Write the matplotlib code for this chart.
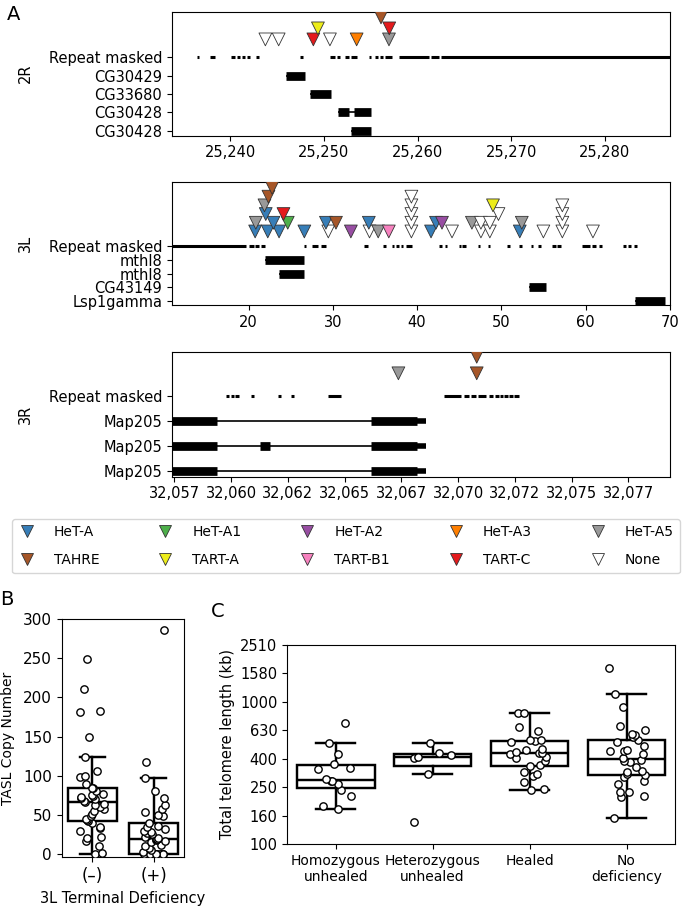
import numpy as np
import matplotlib
matplotlib.use('Agg')
import matplotlib.pyplot as plt
from matplotlib.ticker import FuncFormatter, MultipleLocator
from matplotlib.lines import Line2D

# TE families and colours
te_names = ['HeT-A', 'HeT-A1', 'HeT-A2', 'HeT-A3', 'HeT-A5',
            'TAHRE', 'TART-A', 'TART-B1', 'TART-C', 'None']
te_colors = ['#377eb8', '#4daf4a', '#984ea3', '#ff7f00', '#999999',
             '#a65628', '#eded1a', '#f781bf', '#e41a1c', 'white']

# ---- 2R (kb)
genes_2r = ['CG30429', 'CG33680', 'CG30428', 'CG30428']
exons_2r = [[(25246.0, 25248.0)],
            [(25248.55, 25250.8)],
            [(25251.5, 25252.65), (25253.2, 25255.0)],
            [(25252.9, 25255.0)]]
utrs_2r = [[], [], [], []]
repeats_2r = [(25236.47, 25236.72), (25237.89, 25238.42), (25240.13, 25240.56),
              (25240.73, 25241.09), (25241.27, 25241.62), (25241.80, 25242.16),
              (25242.76, 25243.12), (25247.49, 25247.74), (25250.65, 25251.22),
              (25251.40, 25251.76), (25252.29, 25252.64), (25252.93, 25253.53),
              (25254.78, 25255.06), (25255.49, 25255.77), (25256.02, 25256.27),
              (25256.56, 25257.27), (25257.98, 25261.25), (25261.46, 25262.24),
              (25262.46, 25286.94)]
te_pos_2r = [25243.76, 25245.18, 25248.88, 25249.37, 25250.65, 25253.5,
             25256.95, 25256.98, 25256.1]
te_type_2r = ['None', 'None', 'TART-C', 'TART-A', 'None', 'HeT-A3',
              'HeT-A5', 'TART-C', 'TAHRE']
te_level_2r = [0, 0, 0, 1, 0, 0, 0, 1, 2]

# ---- 3L (kb)
genes_3l = ['mthl8', 'mthl8', 'CG43149', 'Lsp1gamma']
exons_3l = [[(21.9, 26.6)], [(23.6, 26.6)], [(53.3, 55.25)], [(65.9, 69.4)]]
utrs_3l = [[], [], [], []]
repeats_3l = [(10.0, 19.68), (20.0, 20.6), (20.78, 21.26), (21.5, 21.97),
              (26.58, 26.82), (27.5, 28.28), (28.6, 29.15), (33.72, 34.19),
              (35.97, 36.25), (36.96, 37.27), (37.55, 37.86), (38.06, 38.38),
              (38.73, 39.4), (42.64, 42.95), (43.27, 43.58), (44.93, 45.2),
              (45.32, 45.79), (47.17, 47.45), (48.36, 48.63), (50.72, 51.0),
              (52.1, 52.42), (53.48, 53.76), (54.39, 54.67), (55.97, 56.52),
              (56.64, 57.03), (59.6, 60.47), (60.7, 61.18), (61.57, 61.89),
              (64.41, 64.73), (65.04, 65.36), (65.71, 66.11)]
te_pos_3l = [20.78, 22.28, 23.62, 26.62, 29.46, 32.14, 34.35, 35.38, 36.64,
             39.32, 41.65, 44.14, 47.57, 48.63, 52.18, 54.98, 57.23, 60.86,
             20.86, 22.95, 24.65, 29.18, 30.37, 34.27, 39.32, 42.24, 42.95,
             46.5, 47.57, 48.63, 52.42, 57.23,
             22.04, 24.14, 39.32, 49.65, 57.23,
             21.89, 39.32, 49.0, 57.23,
             22.36, 39.32,
             22.8]
te_type_3l = ['HeT-A', 'HeT-A', 'HeT-A', 'HeT-A', 'None', 'HeT-A2', 'None',
              'HeT-A5', 'TART-B1', 'None', 'HeT-A', 'None', 'None', 'None',
              'HeT-A', 'None', 'None', 'None',
              'HeT-A5', 'HeT-A', 'HeT-A1', 'HeT-A', 'TAHRE', 'HeT-A', 'None',
              'HeT-A', 'HeT-A2', 'HeT-A5', 'None', 'None', 'HeT-A5', 'None',
              'HeT-A', 'TART-C', 'None', 'None', 'None',
              'HeT-A5', 'None', 'TART-A', 'None',
              'TAHRE', 'None',
              'TAHRE']
te_level_3l = [0] * 18 + [1] * 14 + [2] * 5 + [3] * 4 + [4] * 2 + [5]

# ---- 3R (kb)
genes_3r = ['Map205', 'Map205', 'Map205']
exons_3r = [[(32050.0, 32059.37), (32066.18, 32068.19)],
            [(32050.0, 32059.37), (32061.28, 32061.72), (32066.18, 32068.19)],
            [(32050.0, 32059.37), (32066.18, 32068.19)]]
utrs_3r = [[(32068.19, 32068.57)], [(32068.19, 32068.57)], [(32068.19, 32068.57)]]
repeats_3r = [(32059.78, 32059.93), (32059.99, 32060.13), (32060.19, 32060.37),
              (32060.87, 32061.01), (32062.08, 32062.2), (32062.62, 32062.77),
              (32064.28, 32064.82), (32069.36, 32070.13), (32070.24, 32070.5),
              (32070.57, 32070.79), (32070.87, 32071.23), (32071.35, 32071.55),
              (32071.64, 32071.79), (32071.85, 32071.96), (32072.04, 32072.18),
              (32072.26, 32072.4), (32072.48, 32072.67)]
te_pos_3r = [32067.37, 32070.82, 32070.82]
te_type_3r = ['HeT-A5', 'TAHRE', 'TAHRE']
te_level_3r = [0, 0, 1]

# ---- B: TASL copy number
tasl_groups = ['(\u2013)', '(+)']
tasl_minus = [0, 1, 10, 16, 20, 22, 29, 33, 35, 40, 42.5, 43, 45, 48, 51, 55,
              58, 60, 62, 64, 66, 68, 70, 72, 73, 74, 75, 76, 80, 84, 84.5, 89,
              98, 100, 106, 124, 149.5, 181, 183, 211, 248.5]
tasl_plus = [0, 0, 0, 0, 0, 0, 0, 0, 0, 0, 0, 2, 5, 8, 10, 12, 15, 16, 18, 19,
             19, 21, 22, 25, 27, 28, 30, 32, 34, 36, 40, 48, 50, 54, 57, 62,
             72, 81, 97, 117, 286]

# ---- C: total telomere length (kb)
groups_c = ['Homozygous\nunhealed', 'Heterozygous\nunhealed', 'Healed', 'No\ndeficiency']
homo_unhealed = [177, 184, 219, 240, 264, 276, 278, 286, 337, 340, 367, 431, 514, 711]
het_unhealed = [142, 312, 405, 412, 425, 433, 517]
healed = [240, 243, 272, 299, 310, 319, 355, 360, 381, 403, 409, 430, 437, 440,
          445, 456, 469, 519, 528, 536, 542, 628, 662, 836, 836]
no_deficiency = [153, 213, 219, 232, 232, 265, 276, 296, 307, 312, 319, 324, 348,
                 375, 385, 392, 403, 431, 449, 449, 456, 492, 520, 535, 563, 588,
                 598, 638, 673, 916, 1132, 1729]

fig = plt.figure(figsize=(6.84, 9.07), dpi=100)
kb_fmt = FuncFormatter(lambda x, p: '{:,}'.format(int(x)))


def draw_arm(rect, arm, genes, exons, utrs, repeats, te_pos, te_type, te_level,
             xlim, ylim, base, step, major):
    ax = fig.add_axes(rect)
    n = len(genes)
    for i in range(n):
        y = n - 1 - i
        ex = exons[i]
        ax.plot([ex[0][0], ex[-1][1]], [y, y], color='k', lw=1.2, solid_capstyle='butt')
        for s, e in ex:
            ax.plot([s, e], [y, y], color='k', lw=6.3, solid_capstyle='butt')
        for s, e in utrs[i]:
            ax.plot([s, e], [y, y], color='k', lw=4, solid_capstyle='butt')
    for s, e in repeats:
        ax.plot([s, e], [n, n], color='k', lw=2.2, solid_capstyle='butt')
    lev = np.array(te_level)
    order = np.argsort(lev, kind='stable')
    xs = np.array(te_pos)[order]
    ys = n + base + step * lev[order]
    cs = [te_colors[te_names.index(te_type[k])] for k in order]
    ax.scatter(xs, ys, marker='v', s=85, c=cs, edgecolors='#333333',
               linewidths=0.6, zorder=3)
    ax.set_xlim(xlim)
    ax.set_ylim(ylim)
    ax.set_yticks(range(n + 1))
    ax.set_yticklabels(genes[::-1] + ['Repeat masked'], fontsize=10.5)
    ax.set_ylabel(arm, fontsize=10.5)
    ax.yaxis.set_label_coords(-0.279, 0.5)
    ax.xaxis.set_major_locator(MultipleLocator(major))
    ax.xaxis.set_major_formatter(kb_fmt)
    ax.tick_params(axis='x', labelsize=10.5)
    return ax


draw_arm([0.2515, 0.8504, 0.728, 0.1367], '2R', genes_2r, exons_2r, utrs_2r,
         repeats_2r, te_pos_2r, te_type_2r, te_level_2r,
         (25233.8, 25286.936), (-0.27, 6.49), 0.98, 0.60, 10)
draw_arm([0.2515, 0.6634, 0.728, 0.1356], '3L', genes_3l, exons_3l, utrs_3l,
         repeats_3l, te_pos_3l, te_type_3l, te_level_3l,
         (10.92, 70.0), (-0.3, 8.61), 1.05, 0.63, 10)
draw_arm([0.2515, 0.4744, 0.728, 0.1378], '3R', genes_3r, exons_3r, utrs_3r,
         repeats_3r, te_pos_3r, te_type_3r, te_level_3r,
         (32057.4, 32079.331), (-0.23, 4.75), 0.89, 0.66, 2.5)

# legend (row-major look with ncol=5)
handles = [Line2D([], [], ls='none', marker='v', markersize=9.2,
                  markerfacecolor=c, markeredgecolor='#333333', markeredgewidth=0.6)
           for c in te_colors]
idx = [0, 5, 1, 6, 2, 7, 3, 8, 4, 9]
fig.legend([handles[i] for i in idx], [te_names[i] for i in idx],
           loc='upper left', bbox_to_anchor=(0.0175, 0.3671, 0.9766, 0.0606),
           mode='expand', ncol=5, fontsize=10, handlelength=1.2,
           handletextpad=1.35, borderpad=0.45, labelspacing=1.0,
           borderaxespad=0)

box_kw = dict(widths=0.8, showfliers=False, patch_artist=True,
              boxprops=dict(facecolor='white', edgecolor='black', linewidth=1.75),
              medianprops=dict(color='black', linewidth=1.75),
              whiskerprops=dict(color='black', linewidth=1.75),
              capprops=dict(color='black', linewidth=1.75))
rng = np.random.default_rng(7)

# B
axb = fig.add_axes([0.0902, 0.0548, 0.1792, 0.2627])
axb.boxplot([tasl_minus, tasl_plus], positions=[0, 1], **box_kw)
for i, vals in enumerate([tasl_minus, tasl_plus]):
    x = i + rng.uniform(-0.2, 0.2, len(vals))
    axb.scatter(x, vals, s=28, facecolor='white', edgecolor='black', linewidth=1, zorder=3)
axb.set_xlim(-0.5, 1.5)
axb.set_ylim(-4.2, 300)
axb.set_xticks([0, 1])
axb.set_xticklabels(tasl_groups, fontsize=12)
axb.set_yticks(range(0, 301, 50))
axb.tick_params(axis='y', labelsize=11)
axb.set_ylabel('TASL Copy Number', fontsize=10)
axb.yaxis.set_label_coords(-0.38, 0.5)
axb.set_xlabel('3L Terminal Deficiency', fontsize=10.5)

# C
axc = fig.add_axes([0.42, 0.0695, 0.5668, 0.2194])
data_c = [np.log10(v) for v in [homo_unhealed, het_unhealed, healed, no_deficiency]]
axc.boxplot(data_c, positions=range(4), **box_kw)
for i, vals in enumerate(data_c):
    x = i + rng.uniform(-0.2, 0.2, len(vals))
    axc.scatter(x, vals, s=28, facecolor='white', edgecolor='black', linewidth=1, zorder=3)
axc.set_xlim(-0.5, 3.5)
axc.set_ylim(2.0, 3.4)
yt = [2.0, 2.2, 2.4, 2.6, 2.8, 3.0, 3.2, 3.4]
axc.set_yticks(yt)
axc.set_yticklabels(['{:.0f}'.format(round(10 ** t, -1)) for t in yt], fontsize=10.5)
axc.set_xticks(range(4))
axc.set_xticklabels(groups_c, fontsize=10)
axc.set_ylabel('Total telomere length (kb)', fontsize=10.5)

fig.text(7 / 684, 1 - 20 / 907, 'A', fontsize=14, va='baseline')
fig.text(0 / 684, 1 - 605 / 907, 'B', fontsize=14, va='baseline')
fig.text(211 / 684, 1 - 617 / 907, 'C', fontsize=14, va='baseline')

fig.savefig('out.png', dpi=100)
